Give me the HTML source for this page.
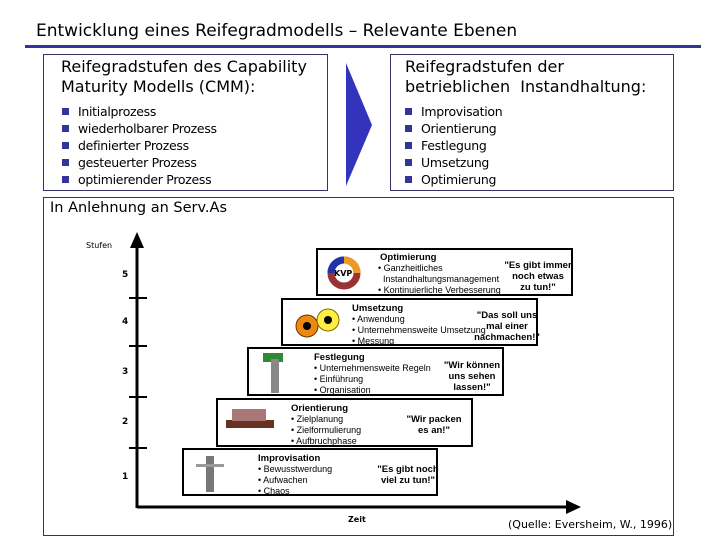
<!DOCTYPE html>
<html><head><meta charset="utf-8"><style>
body{margin:0;width:720px;height:540px;background:#fff;position:relative;overflow:hidden;font-family:"DejaVu Sans","Liberation Sans",sans-serif;color:#000}
div{position:absolute;box-sizing:border-box}
.t{white-space:nowrap}
.box{border:1px solid #333366}
.b{position:absolute;font-size:12.5px;line-height:17px;letter-spacing:-0.3px}
.b span{display:inline-block;width:7px;height:7px;background:#333399;margin-right:9px;vertical-align:1px}
.st{border:2px solid #000;background:#fff;font-family:"Liberation Sans",sans-serif}
.st .h{position:absolute;font-size:9.5px;font-weight:bold;white-space:nowrap}
.st .l{position:absolute;font-size:9px;line-height:11px;white-space:nowrap}
.st .q{position:absolute;width:80px;font-size:9.5px;font-weight:bold;line-height:11px;text-align:center;white-space:nowrap}
.tick{height:2px;width:18px;background:#000;left:129px}
.n{font-size:9px;font-weight:bold;left:122px}
</style></head><body>
<div class="t" style="left:36px;top:21px;font-size:17px">Entwicklung eines Reifegradmodells – Relevante Ebenen</div>
<div style="left:25px;top:45px;width:676px;height:3px;background:#333399"></div>

<div class="box" style="left:43px;top:54px;width:285px;height:137px">
 <div class="t" style="left:17px;top:2px;font-size:16px;line-height:20px">Reifegradstufen des Capability<br>Maturity Modells (CMM):</div>
 <div class="b" style="left:18px;top:48px"><span></span>Initialprozess<br><span></span>wiederholbarer Prozess<br><span></span>definierter Prozess<br><span></span>gesteuerter Prozess<br><span></span>optimierender Prozess</div>
</div>
<svg style="position:absolute;left:0;top:0" width="720" height="540">
<polygon points="346,63 372,125 346,186" fill="#3333bb"/>
</svg>
<div class="box" style="left:390px;top:54px;width:284px;height:137px">
 <div class="t" style="left:14px;top:2px;font-size:16px;line-height:20px">Reifegradstufen der<br>betrieblichen&nbsp; Instandhaltung:</div>
 <div class="b" style="left:14px;top:48px"><span></span>Improvisation<br><span></span>Orientierung<br><span></span>Festlegung<br><span></span>Umsetzung<br><span></span>Optimierung</div>
</div>

<div class="box" style="left:43px;top:197px;width:631px;height:339px"></div>
<div class="t" style="left:50px;top:200px;font-size:14.5px">In Anlehnung an Serv.As</div>
<div class="t" style="left:86px;top:241px;font-size:8px">Stufen</div>

<svg style="position:absolute;left:0;top:0" width="720" height="540">
<line x1="137" y1="240" x2="137" y2="508" stroke="#000" stroke-width="3"/>
<polygon points="137,232 130,248 144,248" fill="#000"/>
<line x1="137" y1="507" x2="570" y2="507" stroke="#000" stroke-width="3"/>
<polygon points="581,507 566,500 566,514" fill="#000"/>
</svg>
<div class="tick" style="top:297px"></div><div class="tick" style="top:345px"></div><div class="tick" style="top:396px"></div><div class="tick" style="top:447px"></div>
<div class="n t" style="top:270px">5</div><div class="n t" style="top:317px">4</div><div class="n t" style="top:367px">3</div><div class="n t" style="top:417px">2</div><div class="n t" style="top:472px">1</div>
<div class="t" style="left:348px;top:515px;font-size:8px;font-weight:bold">Zeit</div>
<div class="t" style="left:508px;top:518px;font-size:11px">(Quelle: Eversheim, W., 1996)</div>

<div class="st" style="left:316px;top:248px;width:257px;height:48px">
 <svg style="position:absolute;left:8px;top:5px" width="36" height="36"><circle cx="18" cy="18" r="13" fill="none" stroke="#993333" stroke-width="7"/><path d="M18 5 A13 13 0 0 0 5 18" fill="none" stroke="#2233aa" stroke-width="7"/><path d="M18 5 A13 13 0 0 1 31 18" fill="none" stroke="#ee9922" stroke-width="7"/><text x="8" y="21" font-size="8" font-weight="bold" font-family="DejaVu Sans">KVP</text></svg>
 <div class="h" style="left:62px;top:2px">Optimierung</div>
 <div class="l" style="left:60px;top:13px">• Ganzheitliches<br>&nbsp;&nbsp;Instandhaltungsmanagement<br>• Kontinuierliche Verbesserung</div>
 <div class="q" style="left:180px;top:10px">"Es gibt immer<br>noch etwas<br>zu tun!"</div>
</div>
<div class="st" style="left:281px;top:298px;width:257px;height:48px">
 <svg style="position:absolute;left:10px;top:8px" width="50" height="30"><circle cx="14" cy="18" r="11" fill="#ee8811" stroke="#663300"/><circle cx="14" cy="18" r="4" fill="#000"/><circle cx="35" cy="12" r="11" fill="#ffee44" stroke="#886600"/><circle cx="35" cy="12" r="4" fill="#000"/></svg>
 <div class="h" style="left:69px;top:3px">Umsetzung</div>
 <div class="l" style="left:69px;top:14px">• Anwendung<br>• Unternehmensweite Umsetzung<br>• Messung</div>
 <div class="q" style="left:184px;top:10px">"Das soll uns<br>mal einer<br>nachmachen!"</div>
</div>
<div class="st" style="left:247px;top:347px;width:257px;height:49px">
 <div style="left:14px;top:4px;width:20px;height:9px;background:#338833"></div>
 <div style="left:22px;top:10px;width:8px;height:34px;background:#888"></div>
 <div class="h" style="left:65px;top:3px">Festlegung</div>
 <div class="l" style="left:65px;top:14px">• Unternehmensweite Regeln<br>• Einführung<br>• Organisation</div>
 <div class="q" style="left:183px;top:11px">"Wir können<br>uns sehen<br>lassen!"</div>
</div>
<div class="st" style="left:216px;top:398px;width:257px;height:49px">
 <div style="left:8px;top:20px;width:48px;height:8px;background:#663322"></div>
 <div style="left:14px;top:9px;width:34px;height:12px;background:#aa7777"></div>
 <div class="h" style="left:73px;top:3px">Orientierung</div>
 <div class="l" style="left:73px;top:14px">• Zielplanung<br>• Zielformulierung<br>• Aufbruchphase</div>
 <div class="q" style="left:176px;top:14px">"Wir packen<br>es an!"</div>
</div>
<div class="st" style="left:182px;top:448px;width:256px;height:48px">
 <div style="left:22px;top:6px;width:8px;height:36px;background:#777"></div>
 <div style="left:12px;top:14px;width:28px;height:3px;background:#999"></div>
 <div class="h" style="left:74px;top:3px">Improvisation</div>
 <div class="l" style="left:74px;top:14px">• Bewusstwerdung<br>• Aufwachen<br>• Chaos</div>
 <div class="q" style="left:184px;top:14px">"Es gibt noch<br>viel zu tun!"</div>
</div>
</body></html>
